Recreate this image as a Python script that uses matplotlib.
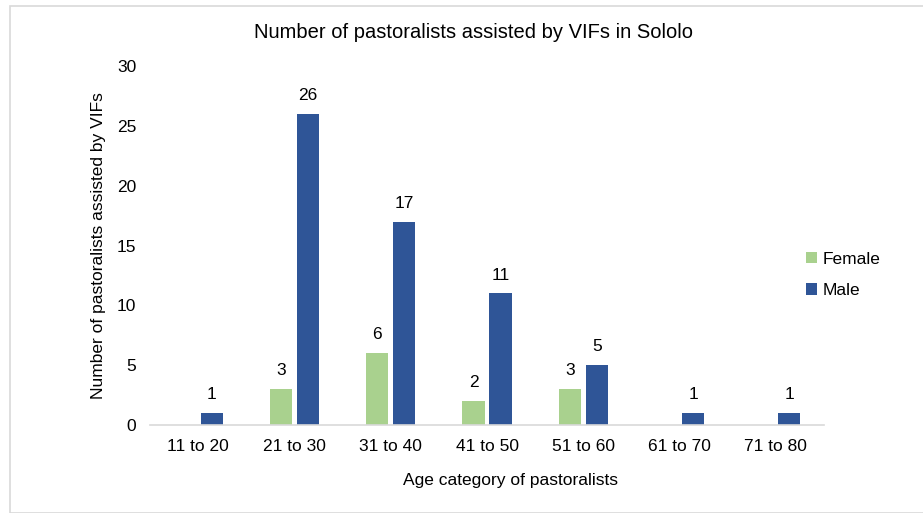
import matplotlib
matplotlib.use("Agg")
import matplotlib.pyplot as plt
import numpy as np
from matplotlib.patches import Rectangle

plt.rcParams['font.family'] = ['Liberation Sans', 'DejaVu Sans']

categories = ["11 to 20", "21 to 30", "31 to 40", "41 to 50", "51 to 60", "61 to 70", "71 to 80"]
female = [0, 3, 6, 2, 3, 0, 0]
male = [1, 26, 17, 11, 5, 1, 1]

W, H = 923, 513
fig = plt.figure(figsize=(W/100, H/100), dpi=100)
# plot area in pixels
x0, x1 = 150, 824
y0, y1 = 66, 425
ax = fig.add_axes([x0/W, 1 - y1/H, (x1-x0)/W, (y1-y0)/H])

x = np.arange(len(categories))
bw = 0.23
off = 0.14
bf = ax.bar(x - off, female, bw, color="#A9D18E", label="Female")
bm = ax.bar(x + off, male, bw, color="#2F5597", label="Male")

for rect, v in zip(bf, female):
    if v > 0:
        ax.text(rect.get_x() + rect.get_width()/2, v + 0.9, str(v), ha="center", va="bottom", fontsize=12.5, color="#000000")
for rect, v in zip(bm, male):
    if v > 0:
        ax.text(rect.get_x() + rect.get_width()/2, v + 0.9, str(v), ha="center", va="bottom", fontsize=12.5, color="#000000")

ax.set_xlim(-0.5, len(categories) - 0.5)
ax.set_ylim(0, 30)
ax.set_yticks(range(0, 31, 5))
ax.set_xticks(x)
ax.set_xticklabels(categories)
ax.tick_params(axis="both", length=0, labelsize=12.5, colors="#000000")
ax.tick_params(axis="y", pad=10)
ax.tick_params(axis="x", pad=10)
for s in ["top", "right", "left"]:
    ax.spines[s].set_visible(False)
ax.spines["bottom"].set_color("#D9D9D9")
ax.spines["bottom"].set_linewidth(1.2)

ax.set_xlabel("Age category of pastoralists", fontsize=12.5)
ax.xaxis.set_label_coords((510 - x0)/(x1 - x0), -(480 - y1)/(y1 - y0))
ax.xaxis.label.set_va("center")
ax.set_ylabel("Number of pastoralists assisted by VIFs", fontsize=12.5)
ax.yaxis.set_label_coords(-(x0 - 99)/(x1 - x0), 0.5)
ax.yaxis.label.set_va("center")

fig.text(473/W, 1 - 32/H, "Number of pastoralists assisted by VIFs in Sololo", ha="center", va="center", fontsize=14.5)

leg = fig.legend(handles=[bf, bm], labels=["Female", "Male"], loc="center left",
                 bbox_to_anchor=(790/W, 1 - 275/H), frameon=False, fontsize=12.5,
                 handlelength=0.65, handleheight=0.65, handletextpad=0.35, labelspacing=0.95)

# outer border
fig.patches.append(Rectangle((10/W, 0.5/H), (W-9)/W, (H-6)/H, transform=fig.transFigure,
                             fill=False, edgecolor="#D9D9D9", linewidth=1.2))

fig.savefig("out.png", dpi=100)
